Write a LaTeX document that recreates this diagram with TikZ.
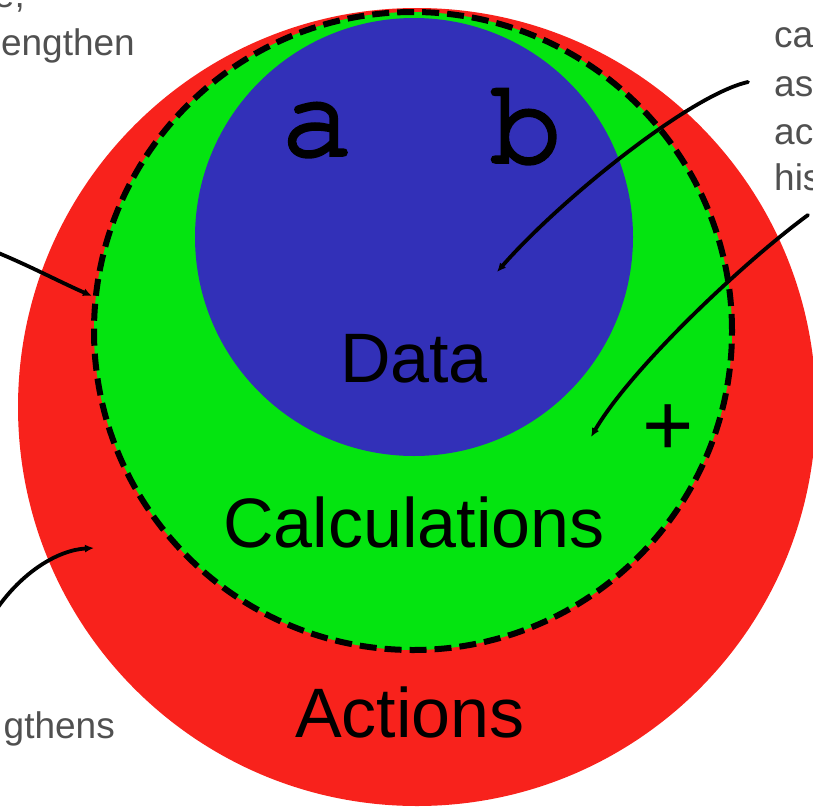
\documentclass[tikz,border=0pt]{standalone}
\usepackage{fontspec}
\setmainfont{Liberation Sans}
\newfontfamily\cursorfnt[FakeBold=3]{TeX Gyre Cursor}
\usetikzlibrary{arrows.meta}
\definecolor{actred}{RGB}{248,34,28}
\definecolor{calcgreen}{RGB}{4,228,16}
\definecolor{datablue}{RGB}{50,48,184}
\definecolor{notegray}{RGB}{80,80,80}
\tikzset{
  biglabel/.style={inner sep=0pt, anchor=base, text=black, font=\fontsize{70}{84}\selectfont},
  letterlabel/.style={inner sep=0pt, anchor=base, text=black, font=\cursorfnt\fontsize{120}{130}\selectfont},
  note/.style={inner sep=0pt, text=notegray, font=\fontsize{37}{44}\selectfont},
  pointer/.style={draw=black, line width=3.8pt, line cap=round, -{Latex[length=9pt,width=8pt]}}
}
\begin{document}
\begin{tikzpicture}[x=1pt,y=-1pt]
\useasboundingbox (0,0) rectangle (813,811);
% circles
\fill[actred] (417,407) circle[radius=399pt];
\fill[calcgreen] (413,331) circle[radius=319pt];
\draw[black, line width=6pt, dash pattern=on 17pt off 8pt] (413,331) circle[radius=319pt];
\fill[datablue] (414,237) circle[radius=219pt];
% labels
\node[letterlabel] (la) at (317,155) {a};
\node[letterlabel] (lb) at (526,162) {b};
\node[biglabel] (data) at (414,382) {Data};
\node[biglabel] (calc) at (414,547) {Calculations};
\node[biglabel] (act) at (410,737) {Actions};
\node[inner sep=0pt, text=black, font=\fontsize{88}{100}\selectfont] (plus) at (668,430) {+};
% notes (cropped at the picture edges, as in the reference)
\node[note, anchor=base east] (n1) at (25,8) {e,};
\node[note, anchor=base east] (n2) at (135,55) {engthen};
\node[note, anchor=base east] (n3) at (115,738) {gthens};
\node[note, anchor=base west] (n4) at (774,47) {ca};
\node[note, anchor=base west] (n5) at (774,96) {as};
\node[note, anchor=base west] (n6) at (774,144) {ac};
\node[note, anchor=base west] (n7) at (774,190) {his};
% pointer ends
\coordinate (a1s) at (-4,252);
\coordinate (a1e) at (92,296);
\coordinate (a2s) at (-4,610);
\coordinate (a2e) at (94,548);
\coordinate (a3s) at (748,82);
\coordinate (a3e) at (497,272);
\coordinate (a4s) at (808,215);
\coordinate (a4e) at (591,437);
\draw[pointer] (a1s) .. controls (30,266) and (60,282) .. (a1e);
\draw[pointer] (a2s) .. controls (22,572) and (58,550) .. (a2e);
\draw[pointer] (a3s) .. controls (690,95) and (560,200) .. (a3e);
\draw[pointer] (a4s) .. controls (740,265) and (630,370) .. (a4e);
\end{tikzpicture}
\end{document}
